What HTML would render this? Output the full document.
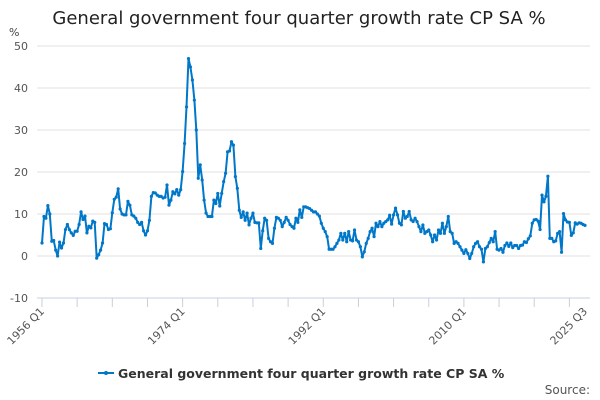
<!DOCTYPE html>
<html><head><meta charset="utf-8"><style>
body{margin:0;background:#fff;font-family:"DejaVu Sans","Liberation Sans",sans-serif}
svg{display:block}
</style></head><body>
<svg id="chart" width="600" height="400" xmlns="http://www.w3.org/2000/svg" font-family="DejaVu Sans, Liberation Sans, sans-serif">
<text x="299" y="24" text-anchor="middle" font-size="18" fill="#222">General government four quarter growth rate CP SA %</text>
<text x="9" y="36" font-size="11" fill="#444">%</text>
<g id="grid"></g><g id="xaxis"></g><g id="series"></g>
<g>
<line x1="98" y1="373" x2="114" y2="373" stroke="#0077c8" stroke-width="2"/>
<circle cx="106" cy="373" r="2" fill="#0077c8"/>
<text x="118" y="378" font-size="12.5" font-weight="bold" fill="#333">General government four quarter growth rate CP SA %</text>
</g>
<text x="590" y="394" text-anchor="end" font-size="12" fill="#555">Source:</text>
</svg>
<script>
const yTicks=[-10,0,10,20,30,40,50];
const xTickLabels=["1956 Q1","1974 Q1","1992 Q1","2010 Q1","2025 Q3"];
const xTickLabelIdx=[0,72,144,216,278];
const startYear=1956;
const values=[
3.1,9.4,9,12, 10,3.5,3.7,1.4, 0,3.3,1.9,3.1, 6.3,7.5,6.3,5.5, 4.9,5.9,5.9,7.5,
10.5,8.7,9.5,5.5, 7.1,6.7,8.3,8, -0.5,0.3,1.4,3.1, 7.7,7.5,6.3,6.5, 10.3,13.5,14,16,
11.2,10,9.8,9.8, 13,12.1,9.8,9.5, 9,8,7.5,8, 6,5,6,8.5, 14.2,15.1,15,14.5,
14.2,14.2,13.8,14, 16.9,12.1,13.3,15.3, 14.8,15.8,14.5,15.8, 20.1,26.8,35.5,47, 45,41.9,37.1,30,
18.5,21.7,18.1,13.3, 10.2,9.4,9.4,9.4, 13.3,12.5,14.9,11.9, 14.9,17.7,19.7,24.8, 25,27.2,26.4,18.9,
16.1,10.9,9.2,10.5, 8.5,10.2,7.4,9, 10.2,8,7.9,7.9, 1.8,6,9,8.5, 4.2,3.4,3,6.6,
9.2,9,8.5,7, 8,9.2,8.5,7.5, 7,6.6,9,8, 11,9.2,11.7,11.7, 11.5,11.3,10.9,10.5,
10.5,10,9.5,7.8, 6.6,5.8,4.6,1.6, 1.6,1.6,2.2,3, 3.8,5.4,3.8,5.4, 3.4,5.8,3.8,3.6,
6.2,3.8,3.4,2.2, -0.2,1,3,4.2, 5.8,6.6,4.6,7.8, 7,8.2,7,7.8, 8.2,8.6,9.7,7.6,
9.8,11.4,9.8,7.8, 7.4,10.6,9,9.4, 10.6,8.6,8.2,9, 8.2,7,5.8,7.4, 5.4,5.8,6.2,5,
3.4,5,3.8,6.2, 5.4,7.8,5.4,7, 9.4,5.8,5.4,3, 3.4,3,2.2,1.4, 0.6,1.5,0.6,-0.6,
0.6,2.2,3,3.4, 2.2,1.6,-1.4,1.8, 2.2,3.2,4.2,3.4, 5.8,1.6,1.4,1.8, 0.9,2.5,3.1,2.3,
3.1,2,2.5,2.5, 1.8,2.5,2.6,3.4, 3.2,4.1,4.8,7.8, 8.6,8.7,8.3,6.3, 14.5,12.9,14.2,19,
4.2,4.2,3.4,3.6, 5.4,5.8,0.9,10.1, 8.6,8.1,8,4.9, 5.5,7.9,7.6,7.9, 7.8,7.5,7.3];
const NS="http://www.w3.org/2000/svg";
const X0=42,X1=585,Y0=298,Ytop=46,ymin=-10,ymax=50;
const n=values.length;
function xs(i){return X0+(X1-X0)*i/(n-1);}
function ys(v){return Y0-(v-ymin)/(ymax-ymin)*(Y0-Ytop);}
function mk(tag,attrs,parent){const e=document.createElementNS(NS,tag);for(const k in attrs)e.setAttribute(k,attrs[k]);parent.appendChild(e);return e;}
const grid=document.getElementById('grid');
yTicks.forEach(t=>{
 if(t!==ymin){const g=mk('line',{x1:37,x2:590,y1:ys(t),y2:ys(t),stroke:'#e0e0e0','stroke-width':1},grid);
 
 }
 const l=mk('text',{x:28,y:ys(t)+4,'text-anchor':'end','font-size':11,fill:'#555'},grid);
 l.textContent=t;
 
 
});
const xa=document.getElementById('xaxis');
const ax=mk('line',{x1:37,x2:590,y1:Y0,y2:Y0,stroke:'#c5d0e0','stroke-width':1},xa);


for(let k=0;k<=15;k++){
 const i=Math.min(k*18,n-1);
 const t=mk('line',{x1:xs(i),x2:xs(i),y1:Y0,y2:Y0+9,stroke:'#c5d0e0'},xa);
 
 
}
xTickLabels.forEach((s,j)=>{
 const x=xs(xTickLabelIdx[j]);
 const t=mk('text',{x:x+3,y:Y0+14,'text-anchor':'end','font-size':11,fill:'#555',transform:`rotate(-45 ${x+3} ${Y0+14})`},xa);
 t.textContent=s;
 
 
});
const ser=document.getElementById('series');
const pts=values.map((v,i)=>xs(i).toFixed(1)+','+ys(v).toFixed(1)).join(' ');
const pl=mk('polyline',{points:pts,fill:'none',stroke:'#0077c8','stroke-width':2,'stroke-linejoin':'round'},ser);


values.forEach((v,i)=>{
 const c=mk('circle',{cx:xs(i),cy:ys(v),r:1.6,fill:'#0077c8'},ser);
 
 
});
</script>
</body></html>
